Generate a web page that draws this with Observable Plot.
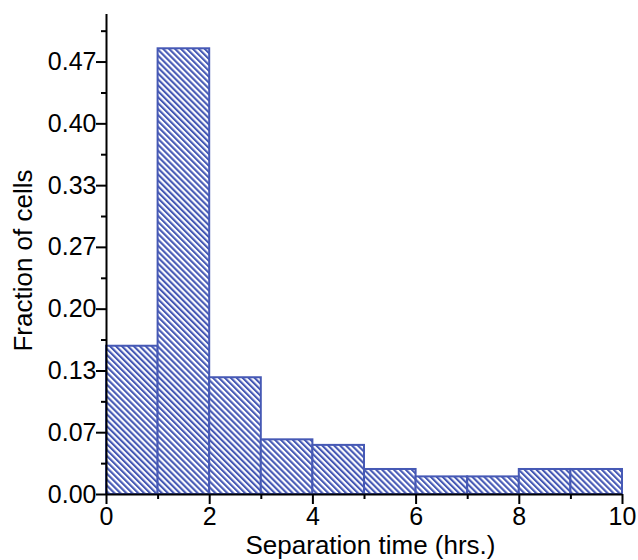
<!DOCTYPE html>
<html>
<head>
<meta charset="utf-8">
<script src="https://cdn.jsdelivr.net/npm/d3@7"></script>
<script src="https://cdn.jsdelivr.net/npm/@observablehq/plot@0.6"></script>
<style>
  html, body { margin: 0; padding: 0; background: #fff; }
  #chart svg { display: block; }
</style>
</head>
<body>
<div id="chart"></div>
<script>
// ---- data ----
const binStart = [0, 1, 2, 3, 4, 5, 6, 7, 8, 9];
const binEnd   = [1, 2, 3, 4, 5, 6, 7, 8, 9, 10];
const fraction = [0.160, 0.481, 0.126, 0.059, 0.053, 0.027, 0.019, 0.019, 0.027, 0.027];

const yTicks      = [0, 0.0667, 0.1333, 0.2, 0.2667, 0.3333, 0.4, 0.4667];
const yTickLabels = ["0.00", "0.07", "0.13", "0.20", "0.27", "0.33", "0.40", "0.47"];
const yMinorTicks = [0.0333, 0.1, 0.1667, 0.2333, 0.3, 0.3667, 0.4333, 0.5];
const xTicks      = [0, 2, 4, 6, 8, 10];
const xMinorTicks = [1, 3, 5, 7, 9];

const xLabel = "Separation time (hrs.)";
const yLabel = "Fraction of cells";

const bins = binStart.map((s, i) => ({start: s, end: binEnd[i], fraction: fraction[i]}));

const blue = "#4659b5";

const plot = Plot.plot({
  width: 638,
  height: 560,
  marginLeft: 106,
  marginRight: 16,
  marginTop: 14,
  marginBottom: 66,
  style: {fontFamily: "'Liberation Sans', Arial, sans-serif", fontSize: "25px", color: "black", background: "white"},
  x: {domain: [0, 10], axis: null, label: null},
  y: {domain: [0, 0.518], axis: null, label: null},
  marks: [
    Plot.rectY(bins, {x1: "start", x2: "end", y1: 0, y2: "fraction",
      fill: "url(#hatch)", stroke: blue, strokeWidth: 2}),
    Plot.axisY(yMinorTicks, {tickSize: 5, tickFormat: () => "", strokeWidth: 2, label: null}),
    Plot.axisY(yTicks, {tickSize: 10, tickPadding: 0, strokeWidth: 2, label: null,
      tickFormat: d => yTickLabels[yTicks.indexOf(d)], fontSize: 25}),
    Plot.axisX(xMinorTicks, {tickSize: 5, tickFormat: () => "", strokeWidth: 2, label: null}),
    Plot.axisX(xTicks, {tickSize: 10, tickPadding: 3, strokeWidth: 2, fontSize: 25, label: null}),
    Plot.ruleX([0], {stroke: "black", strokeWidth: 2}),
    Plot.ruleY([0], {stroke: "black", strokeWidth: 2}),
    Plot.text([xLabel], {frameAnchor: "bottom", dy: 51, dx: 6, lineAnchor: "middle", textAnchor: "middle", fontSize: 26, fill: "black"}),
    Plot.text([yLabel], {frameAnchor: "left", dx: -83, dy: 6, rotate: -90, lineAnchor: "middle", textAnchor: "middle", fontSize: 26, fill: "black"})
  ]
});

// hatch pattern definition
const svg = d3.select(plot);
const defs = svg.insert("defs", ":first-child");
const pat = defs.append("pattern")
  .attr("id", "hatch")
  .attr("patternUnits", "userSpaceOnUse")
  .attr("width", 4.2)
  .attr("height", 10)
  .attr("patternTransform", "rotate(-45)");
pat.append("rect").attr("width", 4.2).attr("height", 10).attr("fill", "white");
pat.append("rect").attr("x", 0).attr("width", 2.1).attr("height", 10).attr("fill", blue);

document.getElementById("chart").appendChild(plot);
</script>
</body>
</html>
